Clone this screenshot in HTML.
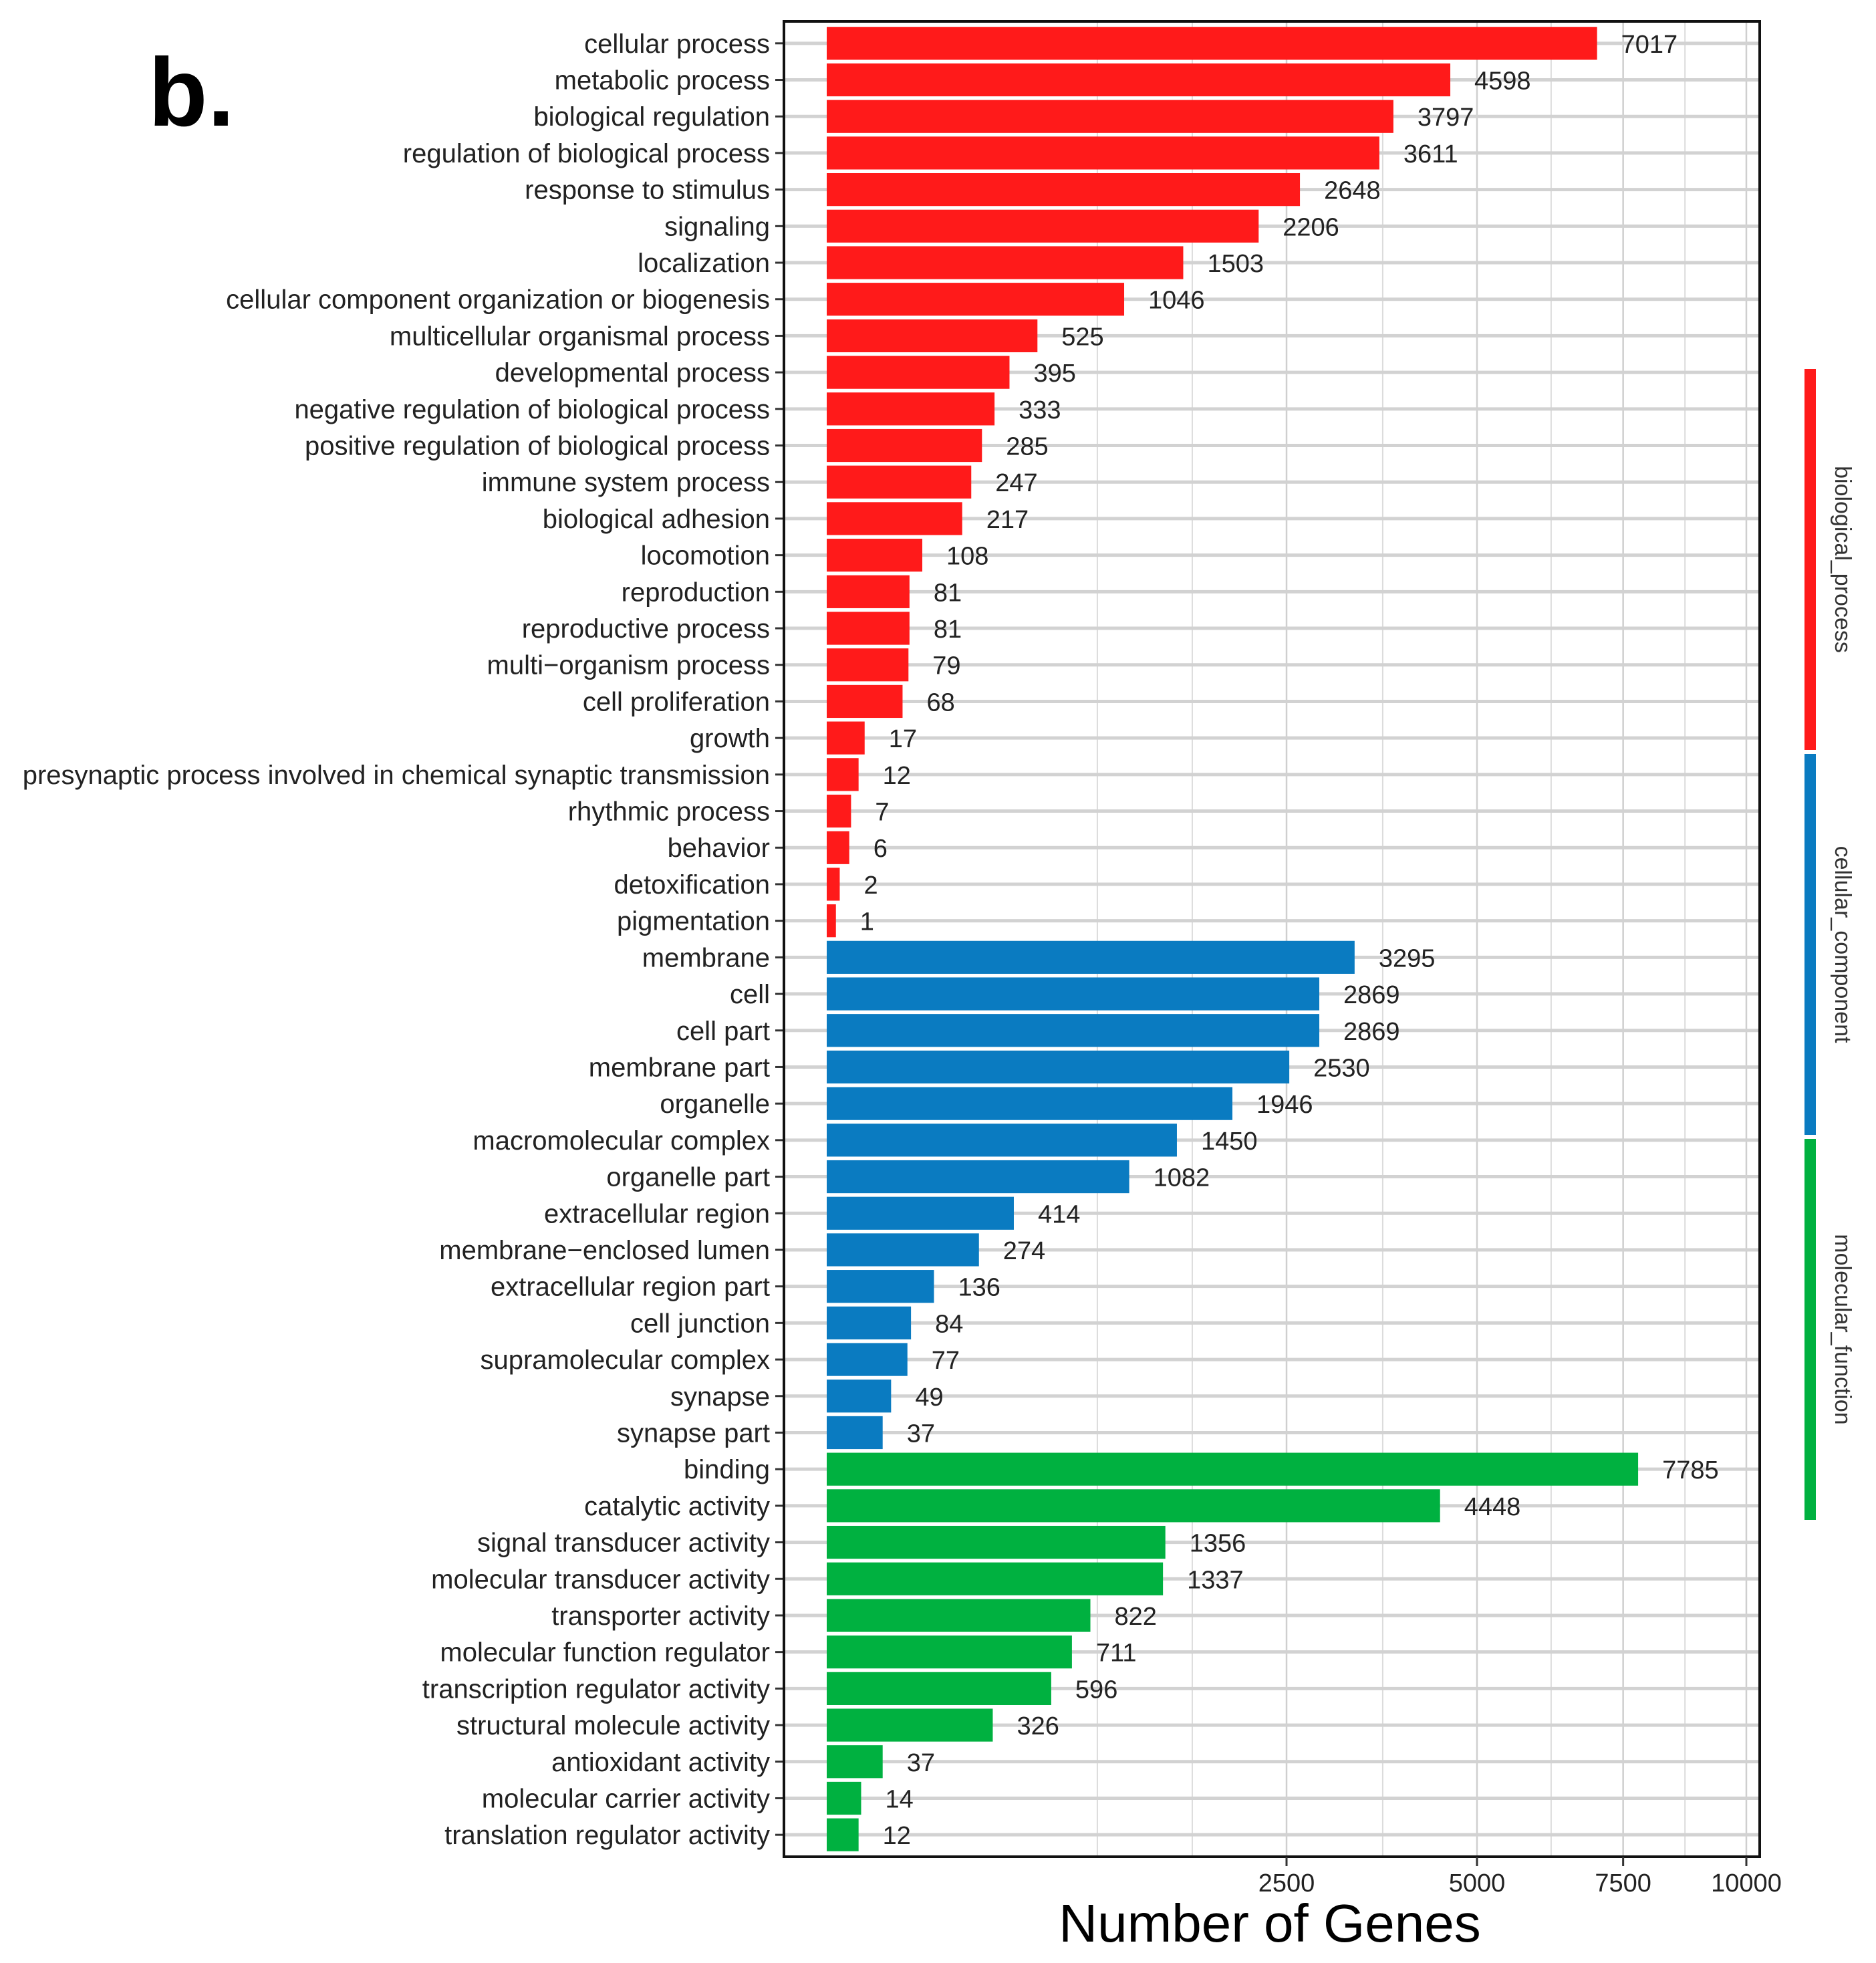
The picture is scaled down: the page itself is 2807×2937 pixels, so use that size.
<!DOCTYPE html>
<html><head><meta charset="utf-8"><style>html,body{margin:0;padding:0;background:#fff}svg{display:block}text{font-family:"Liberation Sans",Arial,sans-serif}</style></head>
<body>
<svg id="chart" width="2807" height="2937" viewBox="0 0 2807 2937" xmlns="http://www.w3.org/2000/svg">
<text x="222" y="188" font-size="145" font-weight="bold" fill="#000">b.</text>
<text x="1900" y="2905" font-size="80" text-anchor="middle" fill="#000">Number of Genes</text>
</svg>
<script>
const categories = ["cellular process","metabolic process","biological regulation","regulation of biological process","response to stimulus","signaling","localization","cellular component organization or biogenesis","multicellular organismal process","developmental process","negative regulation of biological process","positive regulation of biological process","immune system process","biological adhesion","locomotion","reproduction","reproductive process","multi\u2212organism process","cell proliferation","growth","presynaptic process involved in chemical synaptic transmission","rhythmic process","behavior","detoxification","pigmentation","membrane","cell","cell part","membrane part","organelle","macromolecular complex","organelle part","extracellular region","membrane\u2212enclosed lumen","extracellular region part","cell junction","supramolecular complex","synapse","synapse part","binding","catalytic activity","signal transducer activity","molecular transducer activity","transporter activity","molecular function regulator","transcription regulator activity","structural molecule activity","antioxidant activity","molecular carrier activity","translation regulator activity"];
const values = [7017,4598,3797,3611,2648,2206,1503,1046,525,395,333,285,247,217,108,81,81,79,68,17,12,7,6,2,1,3295,2869,2869,2530,1946,1450,1082,414,274,136,84,77,49,37,7785,4448,1356,1337,822,711,596,326,37,14,12];
const groups = ["biological_process","cellular_component","molecular_function"];
const groupCounts = [25,14,11];
const groupColors = ["#ff1a1a","#0a7bc1","#00b140"];
const xTicks = [2500,5000,7500,10000];
const xMinor = [866,1580,3655,6205,8710];

const svg = document.getElementById('chart');
const NS = 'http://www.w3.org/2000/svg';
const L=1173,R=2633,T=32,B=2778;
const x0=1237,k=13.76;
const xs = v => x0 + Math.sqrt(v)*k;
const band = (B-T)/(categories.length+0.2);
const yc = i => T + band*(0.6+i);
function mk(tag, attrs, parent){const e=document.createElementNS(NS,tag);for(const a in attrs)e.setAttribute(a,attrs[a]);(parent||svg).appendChild(e);return e;}

const grid = mk('g',{});


xMinor.forEach(v=>{const l=mk('line',{x1:xs(v),x2:xs(v),y1:T,y2:B,stroke:'#dcdcdc','stroke-width':2},grid);

});
xTicks.forEach(v=>{const l=mk('line',{x1:xs(v),x2:xs(v),y1:T,y2:B,stroke:'#cfcfcf','stroke-width':2.5},grid);

});
categories.forEach((c,i)=>{const l=mk('line',{x1:L,x2:R,y1:yc(i),y2:yc(i),stroke:'#d2d2d2','stroke-width':5},grid);

});

const colorOf=[];
groupCounts.forEach((n,g)=>{for(let j=0;j<n;j++)colorOf.push(groupColors[g]);});
categories.forEach((c,i)=>{
  const y=yc(i),h=band*0.9,v=values[i];
  const r=mk('rect',{x:x0,y:y-h/2,width:xs(v)-x0,height:h,fill:colorOf[i]});
  
  
  const t=mk('text',{x:xs(v)+36,y:y+14,'font-size':38,fill:'#222'});t.textContent=v;
  
  
  const lb=mk('text',{x:1152,y:y+14,'font-size':40,fill:'#222','text-anchor':'end'});lb.textContent=c;
  
  
  const tk=mk('line',{x1:1160,x2:L,y1:y,y2:y,stroke:'#333','stroke-width':3});
  
  
});
const frame=mk('rect',{x:L,y:T,width:R-L,height:B-T,fill:'none',stroke:'#111','stroke-width':4});


xTicks.forEach(v=>{
  const tk=mk('line',{x1:xs(v),x2:xs(v),y1:B,y2:B+14,stroke:'#333','stroke-width':3});
  
  
  const t=mk('text',{x:xs(v),y:2830,'font-size':38,fill:'#222','text-anchor':'middle'});t.textContent=v;
  
  
});
const stripTop=552, stripSeg=576;
groups.forEach((g,j)=>{
  const yt=stripTop+j*stripSeg, yb=yt+stripSeg-6;
  const s=mk('rect',{x:2700,y:yt,width:17,height:yb-yt,fill:groupColors[j]});
  
  
  const cy=(yt+yb)/2;
  const t=mk('text',{x:2746,y:cy,'font-size':34,fill:'#333','text-anchor':'middle',transform:'rotate(90 2746 '+cy+')'});t.textContent=g;
  
  
});
</script>
</body></html>
